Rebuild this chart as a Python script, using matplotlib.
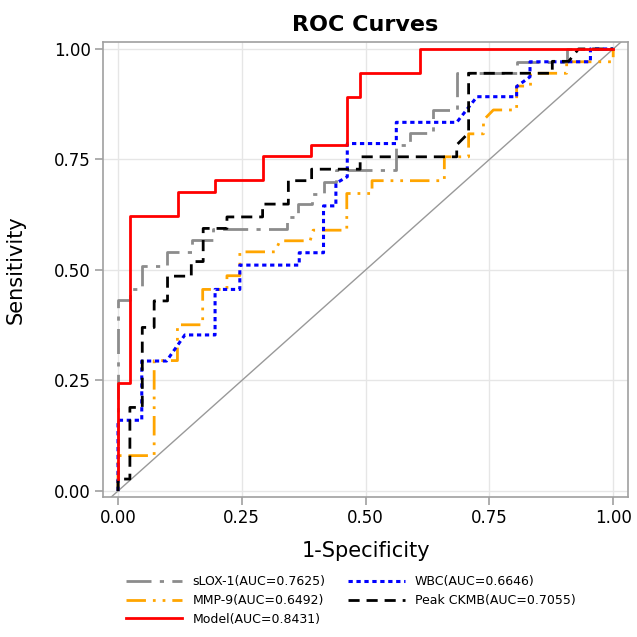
import numpy as np
import matplotlib
matplotlib.use('Agg')
from matplotlib import pyplot as plt

# ROC vertices (1-specificity, sensitivity)
slox_fpr = [0, 0, 0.024, 0.024, 0.048, 0.048, 0.098, 0.098, 0.149, 0.149, 0.191, 0.191,
            0.342, 0.342, 0.364, 0.364, 0.391, 0.391, 0.415, 0.415, 0.44, 0.44, 0.562, 0.562,
            0.589, 0.589, 0.637, 0.637, 0.684, 0.684, 0.805, 0.805, 0.906, 0.906, 1.0]
slox_tpr = [0, 0.432, 0.432, 0.457, 0.457, 0.509, 0.509, 0.541, 0.541, 0.568, 0.568, 0.592,
            0.592, 0.62, 0.62, 0.649, 0.649, 0.673, 0.673, 0.70, 0.70, 0.726, 0.726, 0.783,
            0.783, 0.809, 0.809, 0.862, 0.862, 0.945, 0.945, 0.971, 0.971, 1.0, 1.0]

wbc_fpr = [0, 0, 0.048, 0.048, 0.098, 0.135, 0.196, 0.196, 0.246, 0.246, 0.366, 0.366,
           0.415, 0.415, 0.44, 0.44, 0.463, 0.463, 0.562, 0.562, 0.684, 0.725, 0.805, 0.805,
           0.832, 0.832, 0.954, 0.954, 1.0]
wbc_tpr = [0, 0.16, 0.16, 0.294, 0.294, 0.353, 0.353, 0.456, 0.456, 0.511, 0.511, 0.539,
           0.539, 0.645, 0.645, 0.696, 0.711, 0.786, 0.786, 0.834, 0.834, 0.892, 0.892, 0.915,
           0.937, 0.971, 0.971, 1.0, 1.0]

mmp_fpr = [0, 0, 0.073, 0.073, 0.12, 0.12, 0.171, 0.171, 0.22, 0.22, 0.246, 0.246, 0.317,
           0.327, 0.388, 0.394, 0.462, 0.462, 0.513, 0.513, 0.659, 0.659, 0.708, 0.708, 0.738,
           0.738, 0.758, 0.805, 0.805, 0.833, 0.833, 0.906, 0.906, 1.0, 1.0]
mmp_tpr = [0, 0.08, 0.08, 0.295, 0.295, 0.376, 0.376, 0.456, 0.456, 0.487, 0.487, 0.541,
           0.541, 0.566, 0.566, 0.59, 0.59, 0.673, 0.673, 0.702, 0.702, 0.756, 0.756, 0.808,
           0.808, 0.839, 0.862, 0.862, 0.916, 0.916, 0.945, 0.945, 0.971, 0.971, 1.0]

ckmb_fpr = [0, 0, 0.024, 0.024, 0.049, 0.049, 0.073, 0.073, 0.1, 0.1, 0.148, 0.148, 0.172,
            0.172, 0.22, 0.22, 0.292, 0.292, 0.344, 0.344, 0.391, 0.391, 0.489, 0.489, 0.684,
            0.684, 0.708, 0.708, 0.877, 0.877, 0.91, 0.93, 1.0]
ckmb_tpr = [0, 0.027, 0.027, 0.189, 0.189, 0.37, 0.37, 0.43, 0.43, 0.486, 0.486, 0.519,
            0.519, 0.594, 0.594, 0.62, 0.62, 0.649, 0.649, 0.702, 0.702, 0.728, 0.728, 0.756,
            0.756, 0.783, 0.81, 0.945, 0.945, 0.972, 0.972, 1.0, 1.0]

# model: 41 negatives, 37 positives
model_fp = [0, 0, 1, 1, 5, 5, 8, 8, 12, 12, 16, 16, 19, 19, 20, 20, 25, 25, 41]
model_tp = [1, 9, 9, 23, 23, 25, 25, 26, 26, 28, 28, 29, 29, 33, 33, 35, 35, 37, 37]
n_neg, n_pos = 41, 37

labels = ['sLOX-1(AUC=0.7625)', 'WBC(AUC=0.6646)', 'MMP-9(AUC=0.6492)',
          'Peak CKMB(AUC=0.7055)', 'Model(AUC=0.8431)']
ticks = [0.0, 0.25, 0.5, 0.75, 1.0]
tick_labels = ['0.00', '0.25', '0.50', '0.75', '1.00']

plt.rcParams['font.family'] = 'DejaVu Sans'

fig = plt.figure(figsize=(6.37, 6.37), dpi=100)
ax = fig.add_axes([0.1617, 0.2198, 0.8245, 0.7143])

ax.axline((0, 0), (1, 1), color='#999999', lw=1.0, zorder=1)

l1, = ax.plot(slox_fpr, slox_tpr, color='#8c8c8c', lw=2, dashes=[9, 3, 1.5, 3], zorder=3)
l2, = ax.plot(wbc_fpr, wbc_tpr, color='#0000ff', lw=2.2, dashes=[1.4, 1.2], zorder=4)
l3, = ax.plot(mmp_fpr, mmp_tpr, color='#ffa500', lw=2, dashes=[7, 2.5, 1, 2.5, 1, 2.5], zorder=3)
l4, = ax.plot(ckmb_fpr, ckmb_tpr, color='black', lw=2, dashes=[4, 2.5], zorder=5)
l5, = ax.plot(np.array(model_fp) / n_neg, np.array(model_tp) / n_pos,
              color='#ff0000', lw=2, zorder=6)

ax.set_xlim(-0.0303, 1.0303)
ax.set_ylim(-0.0136, 1.0158)
ax.set_xticks(ticks)
ax.set_yticks(ticks)
ax.set_xticklabels(tick_labels, fontsize=12)
ax.set_yticklabels(tick_labels, fontsize=12)
ax.grid(True, color='#e6e6e6', lw=1)
ax.set_axisbelow(True)
for spine in ax.spines.values():
    spine.set_color('#a0a0a0')
    spine.set_linewidth(1.2)
ax.tick_params(axis='both', color='#a0a0a0', length=6, width=1.2, pad=3)

ax.set_xlabel('1-Specificity', fontsize=15, labelpad=10)
ax.set_ylabel('Sensitivity', fontsize=15, labelpad=20)
ax.set_title('ROC Curves', fontsize=16, fontweight='bold', pad=8)

fig.legend([l1, l3, l5, l2, l4],
           [labels[0], labels[2], labels[4], labels[1], labels[3]],
           ncol=2, loc='upper left', bbox_to_anchor=(0.19, 0.1044), frameon=False,
           fontsize=9, handlelength=4.5, handletextpad=0.8, columnspacing=1.85,
           labelspacing=0.45, borderaxespad=0)

fig.savefig('out.png', dpi=100)
